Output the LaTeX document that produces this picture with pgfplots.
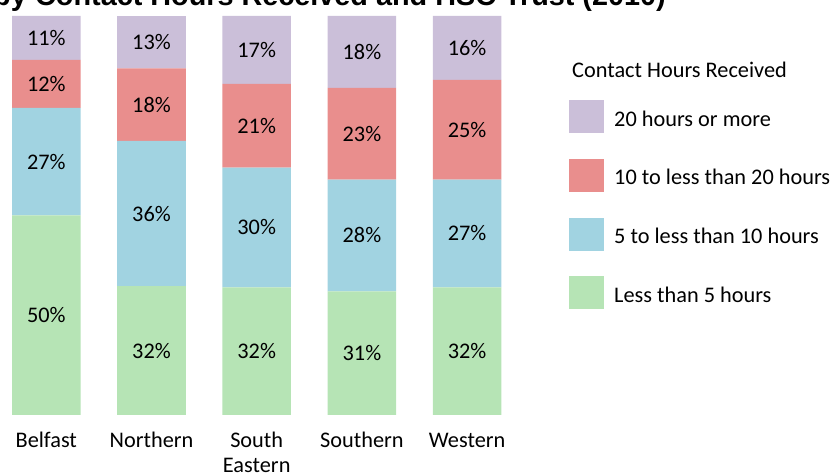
\documentclass[border=0pt]{standalone}
\usepackage{pgfplots}
\pgfplotsset{compat=1.18}
\usepackage{pgfplotstable}
\usepackage{fontspec}
\setmainfont{Carlito}
\newfontfamily\titlefont{Liberation Sans}

\definecolor{cPurple}{HTML}{CBBFD9}
\definecolor{cRed}{HTML}{E98E8D}
\definecolor{cBlue}{HTML}{A1D3E1}
\definecolor{cGreen}{HTML}{B6E4B5}

% shares per trust, scaled so each bar sums to 100
\pgfplotstableread{
x green blue red purple
0 50 27 12 11
1 32.32 36.36 18.18 13.13
2 32 30 21 17
3 31 28 23 18
4 32 27 25 16
}\hoursdata

\newcommand{\lbl}{\fontsize{22.3bp}{25bp}\selectfont}

\begin{document}
\begin{tikzpicture}
\begin{axis}[
	at={(0bp,60bp)}, anchor=south west,
	scale only axis, width=509.2bp, height=399bp,
	ybar stacked, bar width=68.5bp,
	xmin=-0.44, xmax=4.4, ymin=0, ymax=100,
	enlargelimits=false, clip=false,
	axis line style={draw=none}, major tick length=0pt,
	ytick=\empty,
	xtick={0,1,2,3,4},
	xticklabels={\strut Belfast,\strut Northern,{\strut South\\Eastern},\strut Southern,\strut Western},
	xticklabel style={align=center, font=\lbl, anchor=north, yshift=-11bp},
	/pgf/number format/assume math mode=true,
	nodes near coords={\pgfmathprintnumber[fixed,precision=0]{\pgfplotspointmeta}\%},
	every node near coord/.append style={anchor=center, font=\lbl},
	reverse legend,
	legend cell align=left,
	legend style={at={(1.1175,0.7895)}, anchor=north west, draw=none, fill=none,
		inner sep=0pt, row sep=25.7bp, column sep=10bp,
		nodes={inner sep=0pt, font=\lbl}},
	legend image code/.code={\path[#1, draw=none] (0bp,-14bp) rectangle (35bp,19bp);},
]
\addplot[fill=cGreen, draw=none] table[x=x, y=green, meta=green] {\hoursdata};
\addlegendentry{Less than 5 hours}
\addplot[fill=cBlue, draw=none] table[x=x, y=blue, meta=blue] {\hoursdata};
\addlegendentry{5 to less than 10 hours}
\addplot[fill=cRed, draw=none] table[x=x, y=red, meta=red] {\hoursdata};
\addlegendentry{10 to less than 20 hours}
\addplot[fill=cPurple, draw=none] table[x=x, y=purple, meta=purple] {\hoursdata};
\addlegendentry{20 hours or more}
\end{axis}
\node[anchor=west, inner sep=0pt, font=\lbl] at (572bp,405bp) {Contact Hours Received};
\node[anchor=base west, inner sep=0pt, font=\titlefont\bfseries\fontsize{28.8bp}{32bp}\selectfont]
	at (35bp,469bp) {Contact Hours Received and HSC Trust (2010)};
\node[anchor=base east, inner sep=0pt, font=\titlefont\bfseries\fontsize{28.8bp}{32bp}\selectfont]
	at (27bp,469bp) {by};
\pgfresetboundingbox
\path[use as bounding box] (0bp,0bp) rectangle (830bp,475bp);
\end{tikzpicture}
\end{document}
